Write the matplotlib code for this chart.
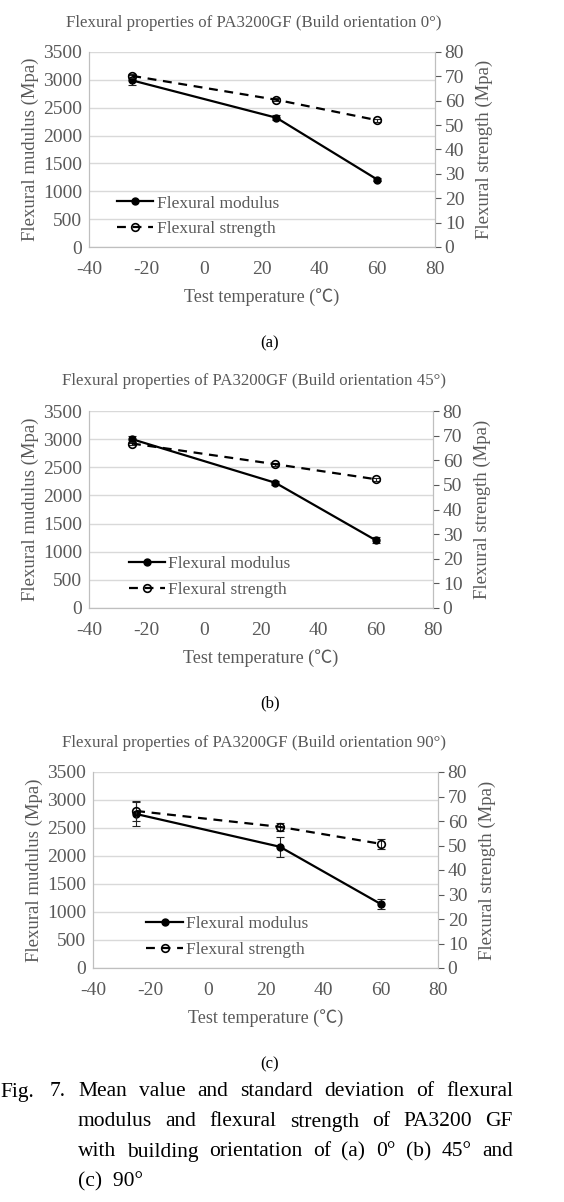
import numpy as np
import matplotlib
matplotlib.use('Agg')
import matplotlib.pyplot as plt

plt.rcParams['font.family'] = ['Liberation Serif', 'Noto Sans CJK JP', 'DejaVu Sans']
plt.rcParams['axes.unicode_minus'] = False

# test temperatures (deg C)
temps = [-25, 25, 60]

# flexural modulus (MPa) and std, per build orientation
modulus_0 = [2990, 2320, 1210]
modulus_0_err = [90, 45, 30]
modulus_45 = [3000, 2225, 1205]
modulus_45_err = [60, 40, 50]
modulus_90 = [2750, 2165, 1145]
modulus_90_err = [220, 180, 85]

# flexural strength (MPa) and std
strength_0 = [70.2, 60.4, 52.0]
strength_0_err = [0.8, 0.6, 0.6]
strength_45 = [66.8, 58.4, 52.3]
strength_45_err = [0.8, 0.6, 0.6]
strength_90 = [64.1, 57.6, 50.7]
strength_90_err = [4.0, 1.5, 2.0]

orientations = ['0°', '45°', '90°']
panel_tags = ['(a)', '(b)', '(c)']

GREY = '#595959'
SPINE = '#bfbfbf'
GRID = '#d9d9d9'

W, H = 564, 1202
fig = plt.figure(figsize=(W / 100, H / 100), dpi=100)


def px_axes(left, right, top, bottom):
    return fig.add_axes([left / W, 1 - bottom / H, (right - left) / W, (bottom - top) / H])


def draw_panel(box, mod, mod_err, stren, stren_err, orient, title_y, legend_x):
    ax1 = px_axes(*box)
    ax1.set_xlim(-40, 80)
    ax1.set_ylim(0, 3500)
    ax1.set_xticks(np.arange(-40, 81, 20))
    ax1.set_yticks(np.arange(0, 3501, 500))
    ax1.grid(axis='y', color=GRID, linewidth=1)
    ax1.set_axisbelow(True)
    ax1.spines['top'].set_visible(False)
    for s in ['left', 'bottom', 'right']:
        ax1.spines[s].set_color(SPINE)
    ax1.tick_params(axis='both', colors=GREY, labelsize=14, length=0)
    ax1.tick_params(axis='y', pad=5)
    ax1.tick_params(axis='x', pad=10)
    ax1.set_ylabel('Flexural mudulus (Mpa)', color=GREY, fontsize=13.5, labelpad=3)
    ax1.set_xlabel('Test temperature (℃)', color=GREY, fontsize=13, labelpad=7)

    ax1.errorbar(temps, mod, yerr=mod_err, fmt='none', ecolor='#222222',
                 elinewidth=0.8, capsize=3, capthick=0.8)
    l1, = ax1.plot(temps, mod, color='black', linewidth=1.6, marker='o',
                   markersize=5, label='Flexural modulus')

    ax2 = ax1.twinx()
    ax2.set_ylim(0, 80)
    ax2.set_yticks(np.arange(0, 81, 10))
    ax2.spines['top'].set_visible(False)
    for s in ['left', 'bottom', 'right']:
        ax2.spines[s].set_color(SPINE)
    ax2.tick_params(axis='y', colors=GREY, labelsize=14, length=4, pad=3, width=0.8)
    ax2.set_ylabel('Flexural strength (Mpa)', color=GREY, fontsize=13.5, labelpad=8)
    ax2.errorbar(temps, stren, yerr=stren_err, fmt='none', ecolor='#222222',
                 elinewidth=0.8, capsize=3, capthick=0.8)
    l2, = ax2.plot(temps, stren, color='black', linewidth=1.6, linestyle=(0, (4, 3)),
                   marker='o', markersize=5.5, markerfacecolor='none',
                   markeredgewidth=1.2, label='Flexural strength')

    ax1.legend([l1, l2], [l1.get_label(), l2.get_label()], loc='lower left',
               bbox_to_anchor=(legend_x, 0.05), frameon=False, fontsize=12.5,
               handlelength=2.1, handletextpad=0.2, labelspacing=0.55,
               borderpad=0, borderaxespad=0, labelcolor=GREY)

    fig.text(254 / W, 1 - title_y / H,
             f'Flexural properties of PA3200GF (Build orientation {orient})',
             ha='center', va='center', color=GREY, fontsize=12.2)
    return ax1


draw_panel((89, 435, 52, 247), modulus_0, modulus_0_err, strength_0, strength_0_err,
           orientations[0], 23, 0.08)
draw_panel((89, 433, 411, 608), modulus_45, modulus_45_err, strength_45, strength_45_err,
           orientations[1], 381, 0.115)
draw_panel((93, 438, 772, 968), modulus_90, modulus_90_err, strength_90, strength_90_err,
           orientations[2], 743, 0.155)

for tag, y in zip(panel_tags, [343, 703, 1064]):
    fig.text(270 / W, 1 - y / H, tag, ha='center', va='center', fontsize=12)

# caption, justified between x=78 and x=513
cap_size = 15.5
fig.text(0 / W, 1 - 1092 / H, 'Fig.', ha='left', va='center', fontsize=cap_size)
fig.text(50 / W, 1 - 1092 / H, '7.', ha='left', va='center', fontsize=cap_size)
caption_lines = [
    'Mean value and standard deviation of flexural',
    'modulus and flexural strength of PA3200 GF',
    'with building orientation of (a) 0° (b) 45° and',
]
renderer = fig.canvas.get_renderer()
x0, x1 = 78, 513
for i, line in enumerate(caption_lines):
    y = 1092 + 30 * i
    words = line.split()
    texts = [fig.text(0, 1 - y / H, w, ha='left', va='center', fontsize=cap_size) for w in words]
    widths = [t.get_window_extent(renderer).width for t in texts]
    gap = (x1 - x0 - sum(widths)) / (len(words) - 1)
    x = x0
    for t, w in zip(texts, widths):
        t.set_x(x / W)
        x += w + gap
fig.text(x0 / W, 1 - 1182 / H, '(c)  90°', ha='left', va='center', fontsize=cap_size)

fig.savefig('out.png', dpi=100, facecolor='white')
